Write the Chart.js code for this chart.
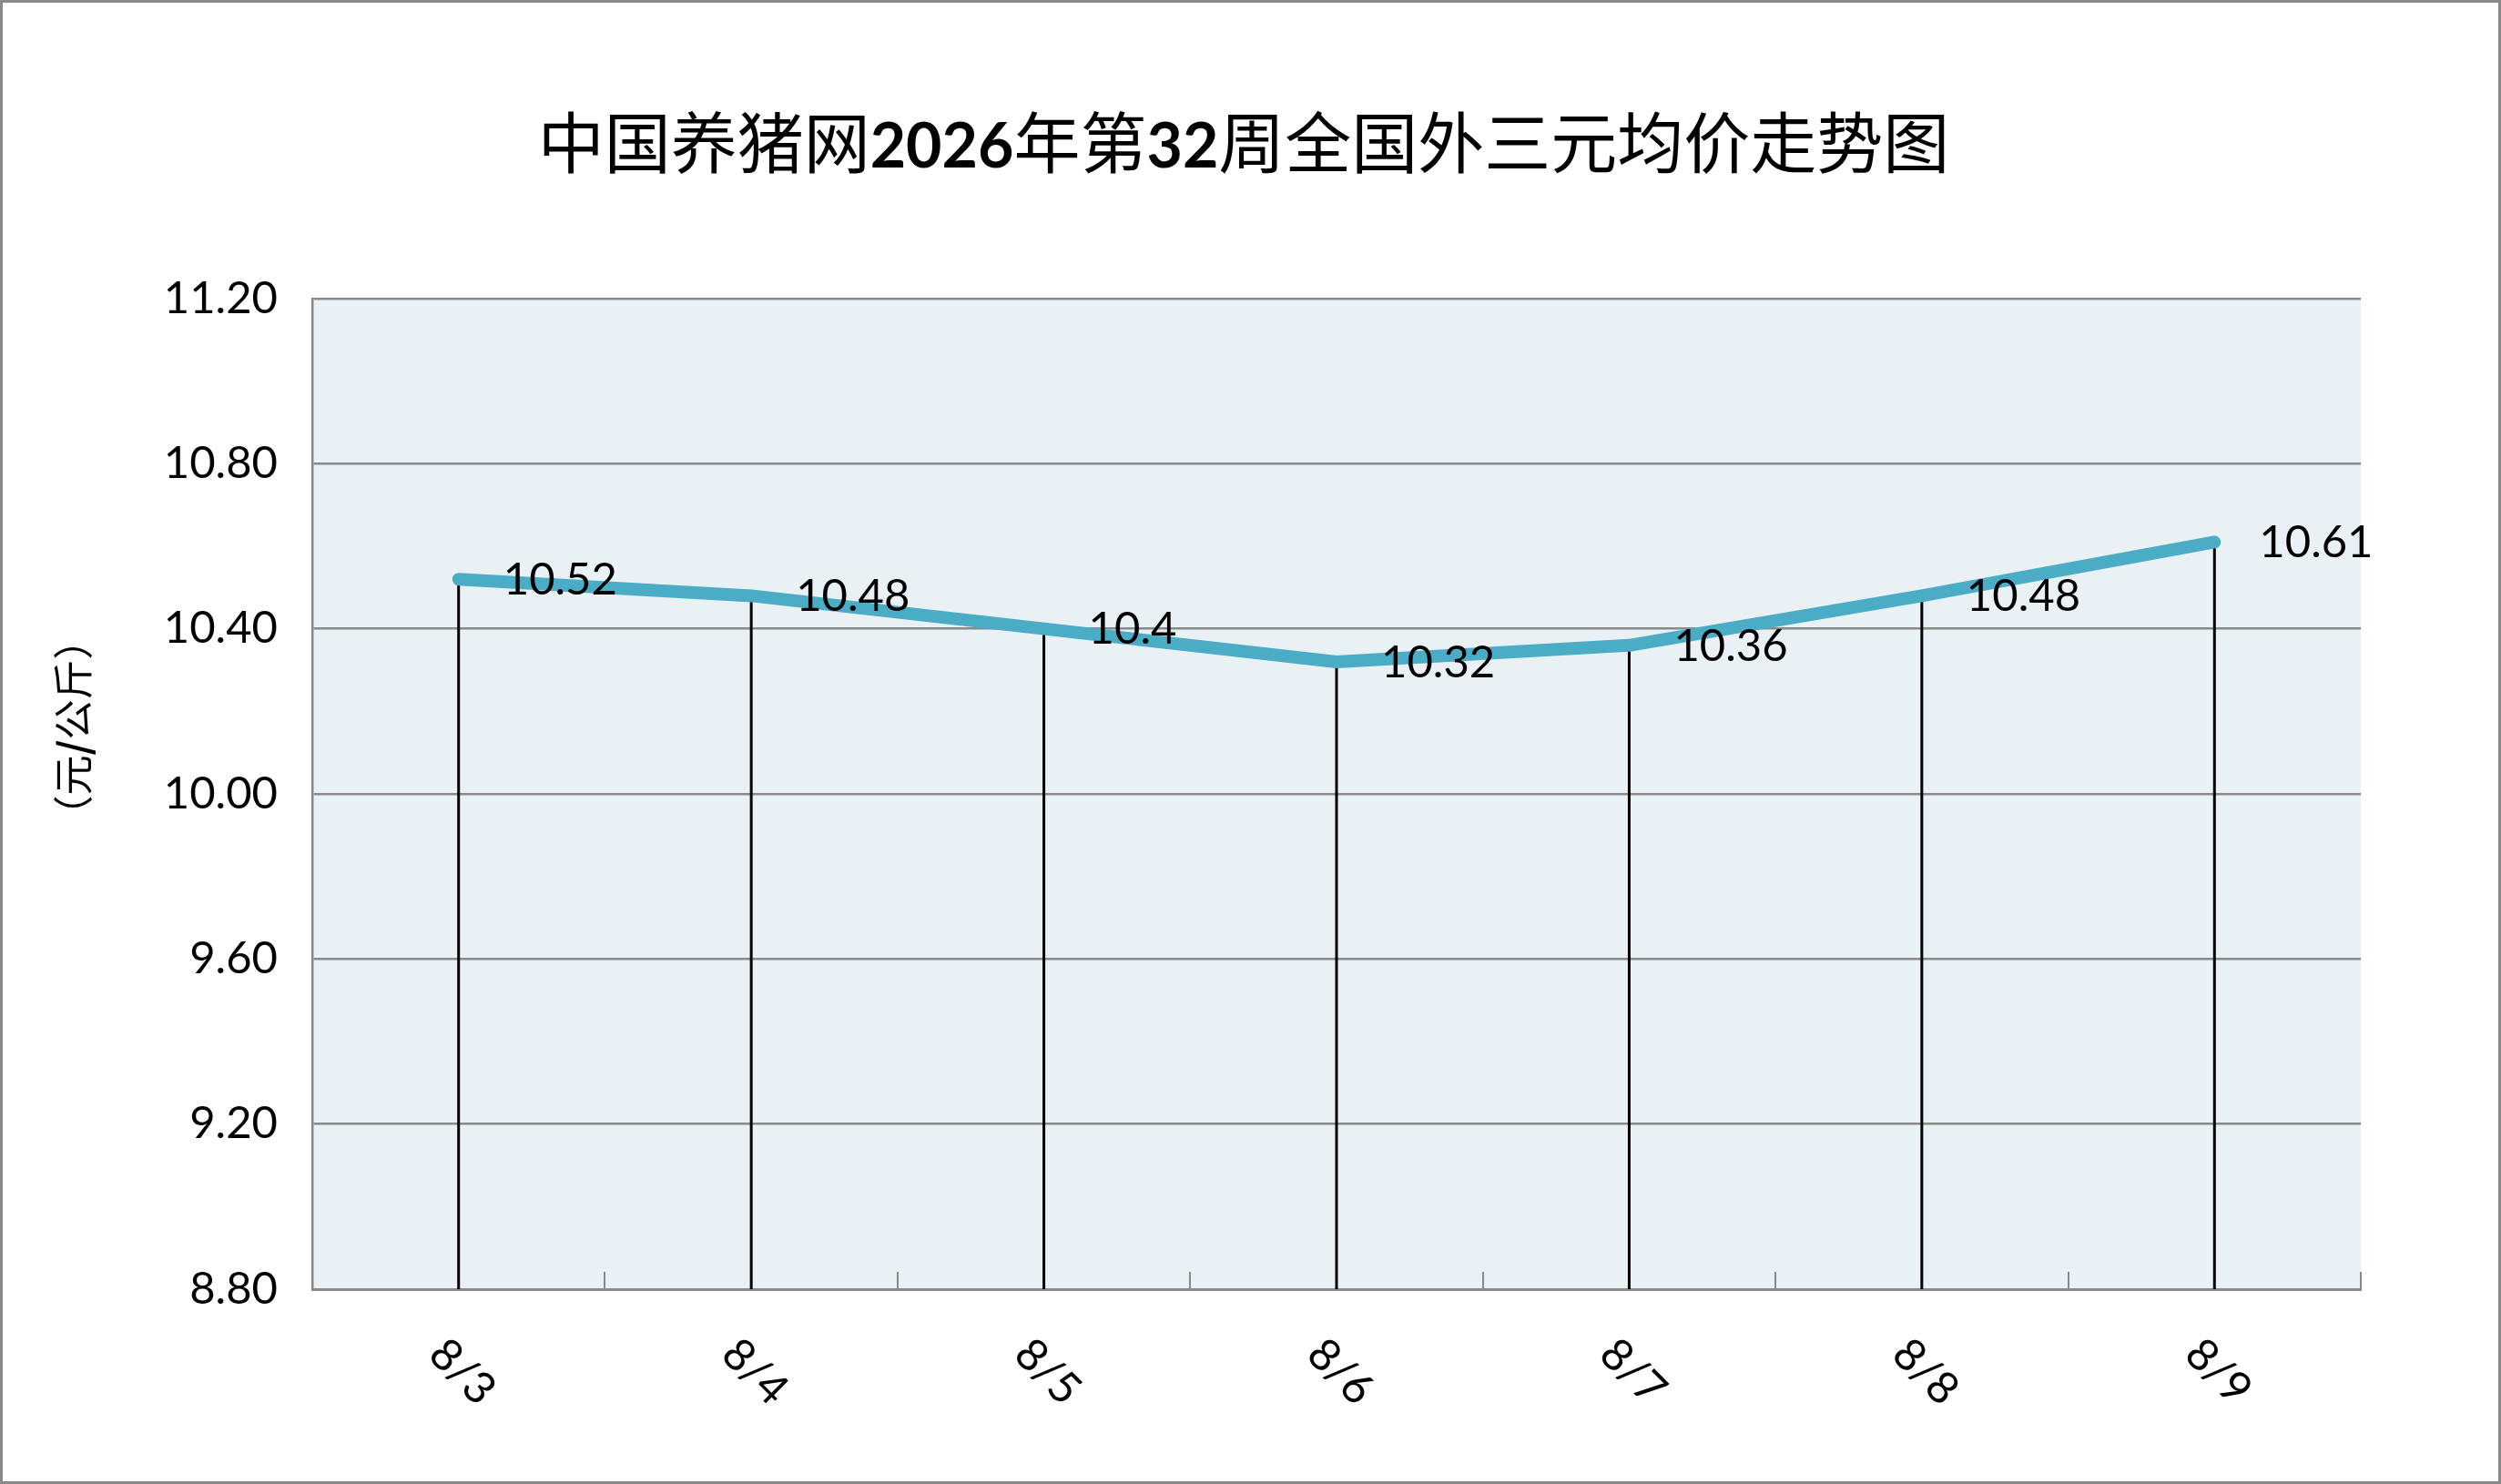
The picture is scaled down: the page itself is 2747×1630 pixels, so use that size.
<!DOCTYPE html>
<html lang="zh-CN">
<head>
    <meta charset="UTF-8">
    <title>中国养猪网2026年第32周全国外三元均价走势图</title>
    <style>
        html, body { margin: 0; padding: 0; background: #fff; }
        #wrap { width: 2747px; height: 1630px; }
    </style>
</head>
<body>
    <div id="wrap"><canvas id="priceChart"></canvas></div>

    <script src="https://cdn.jsdelivr.net/npm/chart.js"></script>
    <script>
        // 数据
        const categories = ['8/3', '8/4', '8/5', '8/6', '8/7', '8/8', '8/9'];
        const prices = [10.52, 10.48, 10.4, 10.32, 10.36, 10.48, 10.61];
        const yMin = 8.8;
        const yMax = 11.2;
        const yStep = 0.4;
        const titleParts = [
            ['中国养猪网', false], ['2026', true], ['年第', false],
            ['32', true], ['周全国外三元均价走势图', false]
        ];
        const yTitleParts = [['（元', false], ['/', true], ['公斤）', false]];

        const CJK = '"Noto Sans CJK SC"';
        const NUM = 'Lato, "Open Sans", sans-serif';

        // 分段绘制混合字体文字，居中于 cx
        function drawParts(ctx, parts, cx, y, fontFor) {
            let total = 0;
            parts.forEach(p => { ctx.font = fontFor(p[1]); total += ctx.measureText(p[0]).width; });
            let x = cx - total / 2;
            parts.forEach(p => {
                ctx.font = fontFor(p[1]);
                ctx.fillText(p[0], x, y);
                x += ctx.measureText(p[0]).width;
            });
        }

        const decor = {
            id: 'decor',
            beforeDraw(chart) {
                const { ctx, chartArea: a } = chart;
                ctx.save();
                ctx.fillStyle = '#ffffff';
                ctx.fillRect(0, 0, chart.width, chart.height);
                ctx.fillStyle = '#E9F1F5';
                ctx.fillRect(a.left, a.top, a.right - a.left, a.bottom - a.top);
                ctx.restore();
            },
            beforeDatasetsDraw(chart) {
                // 垂直线
                const { ctx, chartArea: a } = chart;
                const pts = chart.getDatasetMeta(0).data;
                ctx.save();
                ctx.strokeStyle = '#000';
                ctx.lineWidth = 3;
                pts.forEach(p => {
                    ctx.beginPath();
                    ctx.moveTo(p.x, p.y);
                    ctx.lineTo(p.x, a.bottom);
                    ctx.stroke();
                });
                ctx.restore();
            },
            afterDatasetsDraw(chart) {
                // 数据标签
                const { ctx } = chart;
                const pts = chart.getDatasetMeta(0).data;
                ctx.save();
                ctx.fillStyle = '#000';
                ctx.font = '49px ' + NUM;
                ctx.textAlign = 'left';
                ctx.textBaseline = 'middle';
                pts.forEach((p, i) => ctx.fillText(String(prices[i]), p.x + 49, p.y + 1));
                ctx.restore();
            },
            afterDraw(chart) {
                const { ctx } = chart;
                const xs = chart.scales.x;
                ctx.save();
                ctx.fillStyle = '#000';

                // 标题
                ctx.textAlign = 'left';
                ctx.textBaseline = 'alphabetic';
                drawParts(ctx, titleParts, 1366, 184,
                    b => b ? 'bold 68px ' + NUM : '400 73px ' + CJK);

                // 纵轴标题
                ctx.save();
                ctx.translate(80, 799);
                ctx.rotate(-Math.PI / 2);
                ctx.textBaseline = 'middle';
                drawParts(ctx, yTitleParts, 0, 0,
                    b => b ? 'bold 44px ' + CJK : '400 44px ' + CJK);
                ctx.restore();

                // 横轴标签（45°）
                ctx.font = '49px ' + NUM;
                ctx.textAlign = 'center';
                ctx.textBaseline = 'middle';
                categories.forEach((c, i) => {
                    ctx.save();
                    ctx.translate(xs.getPixelForTick(i) + 4, 1507);
                    ctx.rotate(Math.PI / 4);
                    ctx.fillText(c, 0, 0);
                    ctx.restore();
                });

                // 外框
                ctx.strokeStyle = '#898989';
                ctx.lineWidth = 3;
                ctx.strokeRect(1.5, 1.5, chart.width - 3, chart.height - 3);
                ctx.restore();
            }
        };

        new Chart(document.getElementById('priceChart'), {
            type: 'line',
            data: {
                labels: categories,
                datasets: [{
                    data: prices,
                    borderColor: '#4BACC6',
                    borderWidth: 14,
                    borderCapStyle: 'round',
                    borderJoinStyle: 'round',
                    pointRadius: 0,
                    tension: 0,
                    fill: false
                }]
            },
            options: {
                responsive: true,
                maintainAspectRatio: false,
                devicePixelRatio: 1,
                animation: false,
                layout: { padding: { left: 0, right: 154, top: 328, bottom: 0 } },
                plugins: {
                    legend: { display: false },
                    title: { display: false },
                    tooltip: { enabled: false }
                },
                scales: {
                    x: {
                        offset: true,
                        afterFit: s => { s.height = 214; },
                        ticks: { display: false },
                        grid: {
                            offset: true,
                            drawOnChartArea: false,
                            drawTicks: true,
                            tickLength: -19,
                            color: '#898989',
                            lineWidth: 2
                        },
                        border: { display: true, color: '#898989', width: 3 }
                    },
                    y: {
                        min: yMin,
                        max: yMax,
                        afterFit: s => { s.width = 343; },
                        ticks: {
                            stepSize: yStep,
                            padding: 38,
                            color: '#000',
                            font: { family: NUM, size: 49 },
                            callback: v => Number(v).toFixed(2)
                        },
                        grid: { color: '#898989', lineWidth: 2.5, drawTicks: false },
                        border: { display: true, color: '#898989', width: 2.5 }
                    }
                }
            },
            plugins: [decor]
        });
    </script>
</body>
</html>
